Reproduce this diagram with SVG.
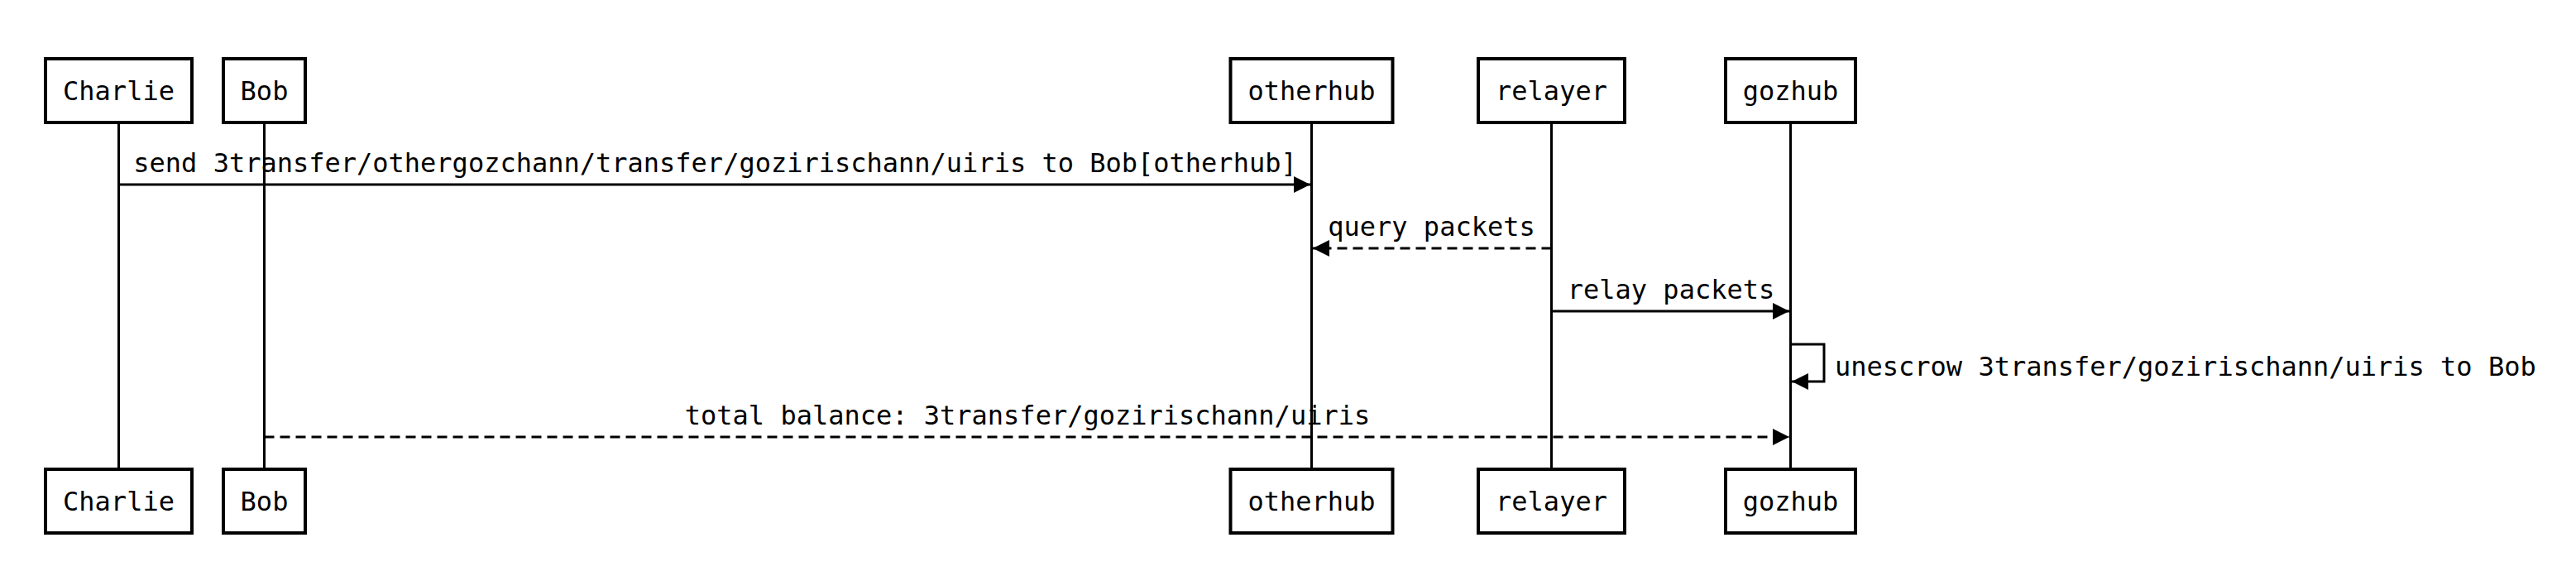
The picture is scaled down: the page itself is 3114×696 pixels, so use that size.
<svg xmlns="http://www.w3.org/2000/svg" width="3114" height="696" viewBox="0 0 3114 696">
<style>
.box{fill:#fff;stroke:#000;stroke-width:4}
.life{stroke:#000;stroke-width:3}
.msg{fill:none;stroke:#000;stroke-width:3}
.dash{stroke-dasharray:12 7}
text{font-family:"DejaVu Sans Mono","Liberation Mono",monospace;font-size:32px;fill:#000}
.c{text-anchor:middle}
</style>
<defs>
<marker id="ah" markerUnits="userSpaceOnUse" viewBox="0 0 20 20" markerWidth="20" markerHeight="20" refX="20" refY="10" orient="auto">
<path d="M0,0 L20,10 L0,20 z" fill="#000" stroke="none"/>
</marker>
</defs>
<g id="lifelines">
<line class="life" x1="143.5" y1="148" x2="143.5" y2="567"/>
<line class="life" x1="319.5" y1="148" x2="319.5" y2="567"/>
<line class="life" x1="1585.5" y1="148" x2="1585.5" y2="567"/>
<line class="life" x1="1875.5" y1="148" x2="1875.5" y2="567"/>
<line class="life" x1="2164.5" y1="148" x2="2164.5" y2="567"/>
</g>
<g id="Charlie">
<rect class="box" x="55" y="71" width="177" height="77"/>
<text class="c" x="143.5" y="121">Charlie</text>
<rect class="box" x="55" y="567" width="177" height="77"/>
<text class="c" x="143.5" y="617">Charlie</text>
</g>
<g id="Bob">
<rect class="box" x="270" y="71" width="99" height="77"/>
<text class="c" x="319.5" y="121">Bob</text>
<rect class="box" x="270" y="567" width="99" height="77"/>
<text class="c" x="319.5" y="617">Bob</text>
</g>
<g id="otherhub">
<rect class="box" x="1487.5" y="71" width="196" height="77"/>
<text class="c" x="1585.5" y="121">otherhub</text>
<rect class="box" x="1487.5" y="567" width="196" height="77"/>
<text class="c" x="1585.5" y="617">otherhub</text>
</g>
<g id="relayer">
<rect class="box" x="1787" y="71" width="177" height="77"/>
<text class="c" x="1875.5" y="121">relayer</text>
<rect class="box" x="1787" y="567" width="177" height="77"/>
<text class="c" x="1875.5" y="617">relayer</text>
</g>
<g id="gozhub">
<rect class="box" x="2086" y="71" width="157" height="77"/>
<text class="c" x="2164.5" y="121">gozhub</text>
<rect class="box" x="2086" y="567" width="157" height="77"/>
<text class="c" x="2164.5" y="617">gozhub</text>
</g>
<g id="connectors">
<line class="msg" x1="143.5" y1="223" x2="1584" y2="223" marker-end="url(#ah)"/>
<text class="c" x="864.5" y="208">send 3transfer/othergozchann/transfer/gozirischann/uiris to Bob[otherhub]</text>
<line class="msg dash" x1="1875.5" y1="300" x2="1587" y2="300" marker-end="url(#ah)"/>
<text class="c" x="1730.5" y="285">query packets</text>
<line class="msg" x1="1875.5" y1="376" x2="2163" y2="376" marker-end="url(#ah)"/>
<text class="c" x="2020" y="361">relay packets</text>
<path class="msg" d="M2164.5,416 H2205 V461 H2166" marker-end="url(#ah)"/>
<text x="2218" y="454">unescrow 3transfer/gozirischann/uiris to Bob</text>
<line class="msg dash" x1="319.5" y1="528" x2="2163" y2="528" marker-end="url(#ah)"/>
<text class="c" x="1242" y="513">total balance: 3transfer/gozirischann/uiris</text>
</g>
</svg>
